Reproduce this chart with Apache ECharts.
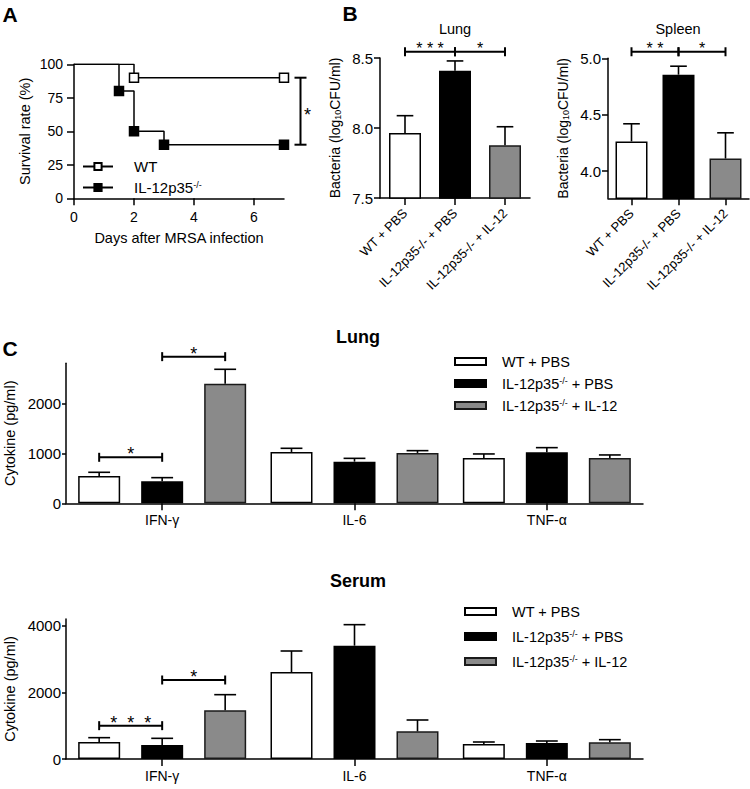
<!DOCTYPE html>
<html><head><meta charset="utf-8">
<script src="https://cdn.jsdelivr.net/npm/echarts@6/dist/echarts.min.js"></script>
<style>html,body{margin:0;padding:0;background:#fff}#c{width:750px;height:789px}</style>
</head><body><div id="c"></div>
<script>
// ---------- Panel A: survival ----------
const survivalDaysWT = [0, 2, 7];
const survivalWT = [100, 90, 90];
const survivalDaysKO = [0, 1.5, 2, 3, 7];
const survivalKO = [100, 80, 50, 40, 40];
const survivalTicksX = [0, 2, 4, 6];
const sigA = [[7.55, 90, 40]];
const sigALabels = ['*'];

// ---------- Panel B: bacteria ----------
const groupsB = ['WT + PBS', 'IL-12p35-/- + PBS', 'IL-12p35-/- + IL-12'];
const lungCFU = [7.964, 8.409, 7.876];
const lungCFUsem = [0.124, 0.070, 0.133];
const spleenCFU = [4.264, 4.855, 4.112];
const spleenCFUsem = [0.156, 0.075, 0.228];
const spleenTicks = [4.0, 4.5, 5.0];
const sigLungB = [[0, 1, 8.545], [1, 2, 8.545]];
const sigLungBLabels = ['* * *', '*'];
const sigSpleenB = [[0, 1, 5.058], [1, 2, 5.058]];
const sigSpleenBLabels = ['* *', '*'];

// ---------- Panel C: cytokines ----------
const cytokines = ['IFN-γ', 'IL-6', 'TNF-α'];
const seriesNamesC = ['WT + PBS', 'IL-12p35-/- + PBS', 'IL-12p35-/- + IL-12'];
const lungWT = [546, 1027, 907];
const lungWTsem = [74, 73, 80];
const lungKO = [440, 833, 1020];
const lungKOsem = [73, 66, 93];
const lungIL12 = [2393, 1007, 907];
const lungIL12sem = [287, 46, 60];
const serumWT = [510, 2610, 450];
const serumWTsem = [130, 630, 60];
const serumKO = [420, 3400, 480];
const serumKOsem = [200, 630, 60];
const serumIL12 = [1460, 830, 500];
const serumIL12sem = [470, 340, 80];
const lungCTicks = [0, 1000, 2000];
const serumCTicks = [0, 2000, 4000];
const sigLungC = [[0, 1, 920], [1, 2, 2933]];
const sigLungCLabels = ['*', '*'];
const sigSerumC = [[0, 1, 1000], [1, 2, 2370]];
const sigSerumCLabels = ['*  *  *', '*'];

// ---------- styling ----------
const FONT = "'Liberation Sans', Arial, Helvetica, sans-serif";
const AXL = { color: '#000', width: 1.5 };
const BAR_STYLES = [
  { color: '#ffffff', borderColor: '#000', borderWidth: 1.5 },
  { color: '#000000', borderColor: '#000', borderWidth: 1.5 },
  { color: '#8a8a8a', borderColor: '#1a1a1a', borderWidth: 1.5 }
];
const BAR_W_B = 32, BAR_W_C = 42, GAP_C = 0.5;
const RICH = {
  sup: { fontSize: 9, verticalAlign: 'top', fontFamily: FONT, color: '#000' },
  sub: { fontSize: 9, verticalAlign: 'bottom', fontFamily: FONT, color: '#000' }
};
const supName = n => n.replace('-/-', '{sup|-/-}');

function errorBars(nBars, barW, gap) {
  return function (params, api) {
    const cat = api.value(0), bar = api.value(1), mean = api.value(2), sem = api.value(3);
    const base = api.coord([cat, mean]);
    const top = api.coord([cat, mean + sem]);
    const x = base[0] + (bar - (nBars - 1) / 2) * barW * (1 + gap);
    const hw = barW * 0.26;
    const st = { stroke: '#000', lineWidth: 1.6 };
    return { type: 'group', children: [
      { type: 'line', shape: { x1: x, y1: base[1], x2: x, y2: top[1] }, style: st },
      { type: 'line', shape: { x1: x - hw, y1: top[1], x2: x + hw, y2: top[1] }, style: st }
    ] };
  };
}
function brackets(nBars, barW, gap, labels, starSize) {
  return function (params, api) {
    const a = api.value(0), b = api.value(1), v = api.value(2);
    const slotX = s => {
      const cat = Math.floor(s / nBars), bar = s % nBars;
      return api.coord([cat, v])[0] + (bar - (nBars - 1) / 2) * barW * (1 + gap);
    };
    const y = api.coord([0, v])[1];
    const x1 = slotX(a), x2 = slotX(b);
    const st = { stroke: '#000', lineWidth: 2 };
    return { type: 'group', children: [
      { type: 'line', shape: { x1: x1, y1: y, x2: x2, y2: y }, style: st },
      { type: 'line', shape: { x1: x1, y1: y - 4.5, x2: x1, y2: y + 4.5 }, style: st },
      { type: 'line', shape: { x1: x2, y1: y - 4.5, x2: x2, y2: y + 4.5 }, style: st },
      { type: 'text', style: { text: labels[params.dataIndex], x: (x1 + x2) / 2, y: y - 3,
        font: starSize + 'px ' + FONT, fill: '#000', align: 'center', verticalAlign: 'middle',
        textAlign: 'center', textVerticalAlign: 'middle' } }
    ] };
  };
}
function bracketA(params, api) {
  const p1 = api.coord([api.value(0), api.value(1)]);
  const p2 = api.coord([api.value(0), api.value(2)]);
  const st = { stroke: '#000', lineWidth: 2 };
  return { type: 'group', children: [
    { type: 'line', shape: { x1: p1[0], y1: p1[1], x2: p2[0], y2: p2[1] }, style: st },
    { type: 'line', shape: { x1: p1[0] - 6, y1: p1[1], x2: p1[0] + 6, y2: p1[1] }, style: st },
    { type: 'line', shape: { x1: p2[0] - 6, y1: p2[1], x2: p2[0] + 6, y2: p2[1] }, style: st },
    { type: 'text', style: { text: sigALabels[params.dataIndex], x: p1[0] + 7, y: (p1[1] + p2[1]) / 2 + 4,
      font: '18px ' + FONT, fill: '#000', align: 'center', verticalAlign: 'middle',
      textAlign: 'center', textVerticalAlign: 'middle' } }
  ] };
}

function valAxis(o) {
  return Object.assign({
    type: 'value', nameLocation: 'middle', nameMoveOverlap: false,
    axisLine: { show: true, lineStyle: AXL },
    axisTick: { show: true, length: 6, lineStyle: AXL },
    axisLabel: { color: '#000', fontFamily: FONT },
    splitLine: { show: false },
    nameTextStyle: { color: '#000', fontFamily: FONT, rich: RICH }
  }, o);
}
function catAxis(o) {
  return Object.assign({
    type: 'category', nameMoveOverlap: false,
    axisLine: { show: true, lineStyle: AXL },
    axisTick: { show: true, alignWithLabel: true, length: 7, lineStyle: AXL },
    splitLine: { show: false }
  }, o);
}

const gridBase = { containLabel: false, outerBoundsMode: 'none' };
const grids = [
  Object.assign({ left: 74, top: 64.3, width: 210, height: 134 }, gridBase),
  Object.assign({ left: 380, top: 58, width: 150, height: 140 }, gridBase),
  Object.assign({ left: 608, top: 58.3, width: 141, height: 140 }, gridBase),
  Object.assign({ left: 66, top: 363.3, width: 577, height: 140 }, gridBase),
  Object.assign({ left: 66, top: 619, width: 577, height: 140 }, gridBase)
];

const plain = v => String(v);
const xAxes = [
  valAxis({ gridIndex: 0, min: 0, max: 7, name: 'Days after MRSA infection', nameGap: 32,
    nameTextStyle: { color: '#000', fontFamily: FONT, fontSize: 14.5 },
    axisTick: { show: true, length: 7, lineStyle: AXL, customValues: survivalTicksX },
    axisLabel: { color: '#000', fontFamily: FONT, fontSize: 14, margin: 12, customValues: survivalTicksX } }),
  catAxis({ gridIndex: 1, data: groupsB,
    axisLabel: { color: '#000', fontFamily: FONT, fontSize: 13, rotate: 45, margin: 13, interval: 0 } }),
  catAxis({ gridIndex: 2, data: groupsB,
    axisLabel: { color: '#000', fontFamily: FONT, fontSize: 13, rotate: 45, margin: 13, interval: 0 } }),
  catAxis({ gridIndex: 3, data: cytokines,
    axisLabel: { color: '#000', fontFamily: FONT, fontSize: 14, margin: 10, interval: 0 } }),
  catAxis({ gridIndex: 4, data: cytokines,
    axisLabel: { color: '#000', fontFamily: FONT, fontSize: 14, margin: 10, interval: 0 } })
];
const yAxes = [
  valAxis({ gridIndex: 0, min: 0, max: 100, interval: 25, name: 'Survival rate (%)', nameGap: 42,
    nameTextStyle: { color: '#000', fontFamily: FONT, fontSize: 14.5 },
    axisTick: { show: true, length: 7, lineStyle: AXL },
    axisLabel: { color: '#000', fontFamily: FONT, fontSize: 14, margin: 11 } }),
  valAxis({ gridIndex: 1, min: 7.5, max: 8.5, interval: 0.5, name: 'Bacteria (log{sub|10}CFU/ml)', nameGap: 38,
    nameTextStyle: { color: '#000', fontFamily: FONT, fontSize: 14, rich: RICH },
    axisLabel: { color: '#000', fontFamily: FONT, fontSize: 15, margin: 7, formatter: v => v.toFixed(1) } }),
  valAxis({ gridIndex: 2, min: 3.76, max: 5.0, name: 'Bacteria (log{sub|10}CFU/ml)', nameGap: 38,
    nameTextStyle: { color: '#000', fontFamily: FONT, fontSize: 14, rich: RICH },
    axisTick: { show: true, length: 6, lineStyle: AXL, customValues: spleenTicks },
    axisLabel: { color: '#000', fontFamily: FONT, fontSize: 15, margin: 7, customValues: spleenTicks, formatter: v => v.toFixed(1) } }),
  valAxis({ gridIndex: 3, min: 0, max: 2800, name: 'Cytokine (pg/ml)', nameGap: 49,
    nameTextStyle: { color: '#000', fontFamily: FONT, fontSize: 14.5 },
    axisTick: { show: true, length: 4, lineStyle: AXL, customValues: lungCTicks },
    axisLabel: { color: '#000', fontFamily: FONT, fontSize: 15, margin: 5, customValues: lungCTicks, formatter: plain } }),
  valAxis({ gridIndex: 4, min: 0, max: 4200, name: 'Cytokine (pg/ml)', nameGap: 49,
    nameTextStyle: { color: '#000', fontFamily: FONT, fontSize: 14.5 },
    axisTick: { show: true, length: 4, lineStyle: AXL, customValues: serumCTicks },
    axisLabel: { color: '#000', fontFamily: FONT, fontSize: 15, margin: 5, customValues: serumCTicks, formatter: plain } })
];

function kmSeries(name, days, surv, fill) {
  return {
    name: name, type: 'line', xAxisIndex: 0, yAxisIndex: 0, step: 'end',
    data: days.map((d, i) => i === 0 ? { value: [d, surv[i]], symbol: 'none' } : [d, surv[i]]),
    symbol: 'rect', symbolSize: 9, showAllSymbol: true,
    lineStyle: { color: '#000', width: 1.5 },
    itemStyle: { color: fill, borderColor: '#000', borderWidth: 1.5 },
    emphasis: { disabled: true }, z: 3
  };
}
function singleBars(ax, means) {
  return { type: 'bar', xAxisIndex: ax, yAxisIndex: ax, barWidth: BAR_W_B,
    data: means.map((v, i) => ({ value: v, itemStyle: BAR_STYLES[i] })), emphasis: { disabled: true } };
}
function errSeries(ax, rows, nBars, barW, gap) {
  return { type: 'custom', xAxisIndex: ax, yAxisIndex: ax, clip: false, z: 5,
    encode: { x: 0, y: 2 }, data: rows, renderItem: errorBars(nBars, barW, gap) };
}
function sigSeries(ax, rows, labels, nBars, barW, gap, size) {
  return { type: 'custom', xAxisIndex: ax, yAxisIndex: ax, clip: false, z: 5,
    encode: { x: 0, y: 2 }, data: rows, renderItem: brackets(nBars, barW, gap, labels, size) };
}
function groupBars(ax, arrs) {
  return arrs.map((arr, k) => ({
    name: seriesNamesC[k], type: 'bar', xAxisIndex: ax, yAxisIndex: ax,
    barWidth: BAR_W_C, barGap: (GAP_C * 100) + '%', data: arr,
    itemStyle: BAR_STYLES[k], emphasis: { disabled: true }
  }));
}
function groupErrRows(means, sems) {
  const rows = [];
  means.forEach((arr, k) => arr.forEach((v, i) => rows.push([i, k, v, sems[k][i]])));
  return rows;
}

const series = [
  kmSeries('WT', survivalDaysWT, survivalWT, '#fff'),
  kmSeries('IL-12p35-/-', survivalDaysKO, survivalKO, '#000'),
  { type: 'custom', xAxisIndex: 0, yAxisIndex: 0, clip: false, z: 5, encode: { x: 0, y: 1 },
    data: sigA, renderItem: bracketA },
  singleBars(1, lungCFU),
  errSeries(1, lungCFU.map((v, i) => [i, 0, v, lungCFUsem[i]]), 1, BAR_W_B, 0),
  sigSeries(1, sigLungB, sigLungBLabels, 1, BAR_W_B, 0, 16),
  singleBars(2, spleenCFU),
  errSeries(2, spleenCFU.map((v, i) => [i, 0, v, spleenCFUsem[i]]), 1, BAR_W_B, 0),
  sigSeries(2, sigSpleenB, sigSpleenBLabels, 1, BAR_W_B, 0, 16),
  ...groupBars(3, [lungWT, lungKO, lungIL12]),
  errSeries(3, groupErrRows([lungWT, lungKO, lungIL12], [lungWTsem, lungKOsem, lungIL12sem]), 3, BAR_W_C, GAP_C),
  sigSeries(3, sigLungC, sigLungCLabels, 3, BAR_W_C, GAP_C, 18),
  ...groupBars(4, [serumWT, serumKO, serumIL12]),
  errSeries(4, groupErrRows([serumWT, serumKO, serumIL12], [serumWTsem, serumKOsem, serumIL12sem]), 3, BAR_W_C, GAP_C),
  sigSeries(4, sigSerumC, sigSerumCLabels, 3, BAR_W_C, GAP_C, 18)
];

function legendC(left, top, gap) {
  return { data: seriesNamesC, orient: 'vertical', left: left, top: top, padding: 0,
    itemWidth: 31, itemHeight: 7, itemGap: gap, icon: 'rect', selectedMode: false,
    formatter: n => '{gap| }' + supName(n),
    textStyle: { fontFamily: FONT, fontSize: 14.5, color: '#000',
      rich: Object.assign({ gap: { width: 11 } }, RICH) } };
}

function txt(text, x, y, size, bold) {
  return { type: 'text', x: x, y: y, silent: true,
    style: { text: text, font: (bold ? 'bold ' : '') + size + 'px ' + FONT, fill: '#000',
      align: 'center', verticalAlign: 'middle', textAlign: 'center', textVerticalAlign: 'middle' } };
}

const option = {
  animation: false,
  backgroundColor: '#fff',
  textStyle: { fontFamily: FONT, color: '#000' },
  grid: grids, xAxis: xAxes, yAxis: yAxes, series: series,
  legend: [
    { data: ['WT', 'IL-12p35-/-'], orient: 'vertical', left: 82, top: 159, padding: 0,
      itemWidth: 30, itemHeight: 9, itemGap: 6, selectedMode: false,
      formatter: n => '{gap| }' + supName(n),
      textStyle: { fontFamily: FONT, fontSize: 15, color: '#000',
        rich: Object.assign({ gap: { width: 16 } }, RICH) } },
    legendC(454, 354, 7),
    legendC(464, 604, 10)
  ],
  graphic: [
    txt('A', 10, 14, 21, true),
    txt('B', 350, 13, 21, true),
    txt('C', 10, 348, 21, true),
    txt('Lung', 455, 29, 14.5, false),
    txt('Spleen', 678, 29, 14.5, false),
    txt('Lung', 358, 337, 18, true),
    txt('Serum', 358, 581, 18, true)
  ]
};

const chart = echarts.init(document.getElementById('c'), null, { renderer: 'svg', width: 750, height: 789 });
chart.setOption(option);
</script>
</body></html>
